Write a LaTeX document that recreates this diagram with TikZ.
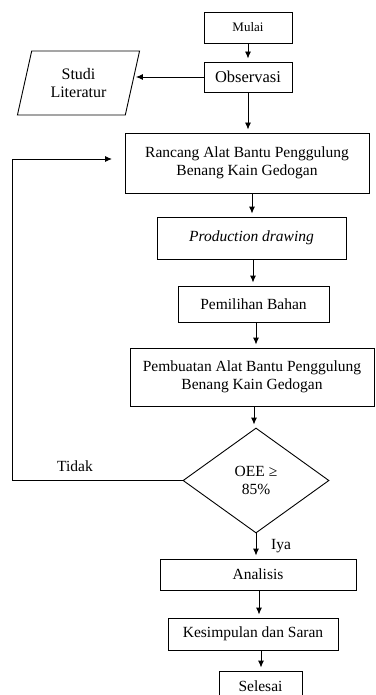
\documentclass[tikz,border=0pt]{standalone}
\usepackage{fontspec}
\setmainfont{Liberation Serif}
\usetikzlibrary{arrows.meta,shapes.geometric}
\begin{document}
\begin{tikzpicture}[x=1pt,y=-1pt,
  every node/.style={font=\fontsize{15.5}{18.5}\selectfont, inner sep=0pt},
  box/.style={draw, line width=0.9pt, align=center},
  arr/.style={draw, line width=0.9pt, -{Latex[length=7pt,width=6pt]}, shorten >=3pt},
  ln/.style={draw, line width=0.9pt}]
\clip (0,0) rectangle (375,695);
\fill[white] (0,0) rectangle (375,695);
\node[box, minimum width=88pt, minimum height=31pt, font=\fontsize{13}{15}\selectfont] (mulai) at (248,27.5) {Mulai};
\node[box, minimum width=88pt, minimum height=30pt, font=\fontsize{16.5}{19}\selectfont] (obs) at (248,77) {Observasi};
\node[draw, line width=0.9pt, trapezium, trapezium left angle=74, trapezium right angle=106, trapezium stretches=true, minimum width=123pt, minimum height=64pt, align=center, font=\fontsize{16}{18.5}\selectfont] (studi) at (78.5,83) {Studi\\Literatur};
\node[box, minimum width=244pt, minimum height=60pt] (rancang) at (247,163) {Rancang Alat Bantu Penggulung\\Benang Kain Gedogan};
\node[box, minimum width=189pt, minimum height=42pt] (prod) at (251.5,238) {\textit{Production drawing}};
\node[box, minimum width=151pt, minimum height=36pt] (pilih) at (253.5,304) {Pemilihan Bahan};
\node[box, minimum width=244pt, minimum height=58pt] (buat) at (252,377) {Pembuatan Alat Bantu Penggulung\\Benang Kain Gedogan};
\node[draw, line width=0.9pt, diamond, aspect=1.39, minimum width=146pt, minimum height=105pt, align=center] (oee) at (256,480.5) {OEE ≥\\85\%};
\node[box, minimum width=196pt, minimum height=31pt] (anal) at (258,574.5) {Analisis};
\node[box, minimum width=170pt, minimum height=32pt] (kes) at (253,634) {Kesimpulan dan Saran};
\node[box, minimum width=83pt, minimum height=30pt] (sel) at (260.5,686) {Selesai};
\node (iya) at (281,546) {Iya};
\node (tidak) at (75,466) {Tidak};
\coordinate (c1) at (12,480.5);
\coordinate (c2) at (12,159);
\coordinate (c3) at (112,159);
% connectors
\draw[arr] (mulai.south) -- (mulai.south |- obs.north);
\draw[arr] (obs.west) -- (obs.west -| studi.east);
\draw[arr] (obs.south) -- (obs.south |- rancang.north);
\draw[arr] ([xshift=5pt]rancang.south) -- ([xshift=5pt]rancang.south |- prod.north);
\draw[arr] ([xshift=1.5pt]prod.south) -- ([xshift=1.5pt]prod.south |- pilih.north);
\draw[arr] ([xshift=2.5pt]pilih.south) -- ([xshift=2.5pt]pilih.south |- buat.north);
\draw[arr] ([xshift=2pt]buat.south) -- ([xshift=2pt]buat.south |- oee.north);
\draw[arr] (oee.south) -- (oee.south |- anal.north);
\draw[arr] ([xshift=1pt]anal.south) -- ([xshift=1pt]anal.south |- kes.north);
\draw[arr] ([xshift=8pt]kes.south) -- ([xshift=8pt]kes.south |- sel.north);
\draw[ln] (oee.west) -- (c1) -- (c2);
\draw[arr, shorten >=0pt] (c2) -- (c3);
\end{tikzpicture}
\end{document}
